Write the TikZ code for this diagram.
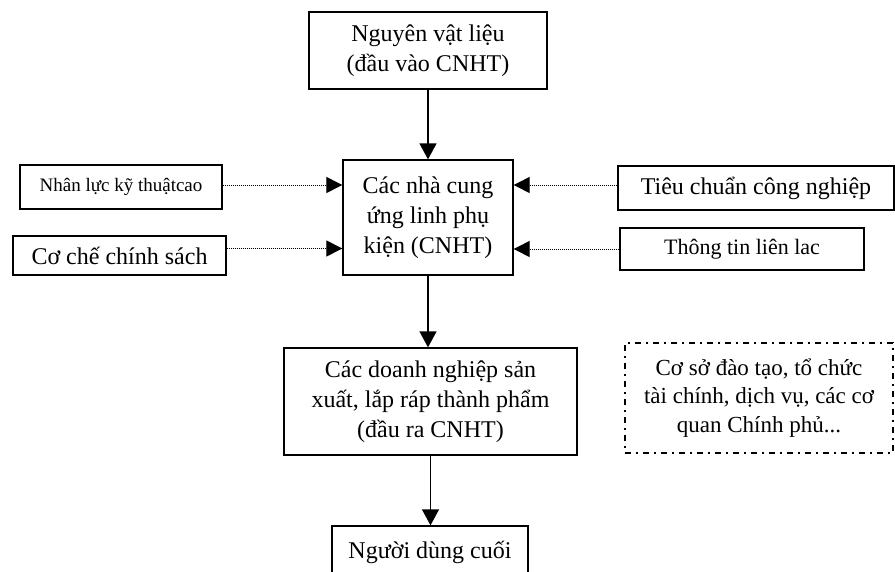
\documentclass[tikz,border=0pt]{standalone}
\usepackage{fontspec}
\setmainfont{Liberation Serif}
\usetikzlibrary{arrows.meta,positioning}

\begin{document}
\begin{tikzpicture}[x=1pt,y=-1pt]
\tikzset{
  flowbox/.style={rectangle,draw=black,line width=1.3pt,align=center,inner sep=2pt,font=\fontsize{24}{30}\selectfont},
  smallbox/.style={flowbox,font=\fontsize{19}{23}\selectfont},
  supportbox/.style={flowbox,line width=1.3pt,dash pattern=on 6pt off 5pt on 2pt off 5pt,font=\fontsize{23}{28.5}\selectfont},
  flowedge/.style={draw=black,line width=1.3pt,-{Triangle[length=16pt,width=17pt]}},
  dottededge/.style={draw=black,line width=1pt,dash pattern=on 1pt off 1pt,-{Triangle[length=16pt,width=16pt]}}
}
\clip (0,0) rectangle (895,571);
\node[flowbox,minimum width=238pt,minimum height=77pt] (n_input) at (428,50.5) {Nguyên vật liệu\\(đầu vào CNHT)};
\node[flowbox,minimum width=170pt,minimum height=115pt] (n_supplier) at (428,217.5) {Các nhà cung\\ứng linh phụ\\kiện (CNHT)};
\node[smallbox,minimum width=202pt,minimum height=44pt] (n_labour) at (121,187) {Nhân lực kỹ thuậtcao};
\node[flowbox,minimum width=213pt,minimum height=39pt] (n_policy) at (119.5,255.5) {Cơ chế chính sách};
\node[flowbox,minimum width=276pt,minimum height=44pt] (n_standard) at (756,188) {Tiêu chuẩn công nghiệp};
\node[flowbox,font=\fontsize{22}{26}\selectfont,minimum width=244pt,minimum height=42pt] (n_comm) at (742,249) {Thông tin liên lac};
\node[flowbox,minimum width=293pt,minimum height=107pt] (n_output) at (430.5,401.5) {Các doanh nghiệp sản\\xuất, lắp ráp thành phẩm\\(đầu ra CNHT)};
\node[flowbox,minimum width=196pt,minimum height=52pt] (n_enduser) at (430,552) {Người dùng cuối};
\node[supportbox,minimum width=268pt,minimum height=110pt] (n_support) at (759,398) {Cơ sở đào tạo, tổ chức\\tài chính, dịch vụ, các cơ\\quan Chính phủ...};
% main chain
\draw[flowedge] (n_input) -- (n_supplier);
\draw[flowedge] (n_supplier.south) -- (n_supplier.south |- n_output.north);
\draw[flowedge] (n_output.south) -- (n_output.south |- n_enduser.north);
% side inputs
\draw[dottededge] ([yshift=2pt]n_labour.east) -- ([yshift=2pt]n_labour.east -| n_supplier.west);
\draw[dottededge] ([yshift=7pt]n_policy.east) -- ([yshift=7pt]n_policy.east -| n_supplier.west);
\draw[dottededge] ([yshift=3pt]n_standard.west) -- ([yshift=3pt]n_standard.west -| n_supplier.east);
\draw[dottededge] (n_comm.west) -- (n_comm.west -| n_supplier.east);
\end{tikzpicture}
\end{document}
